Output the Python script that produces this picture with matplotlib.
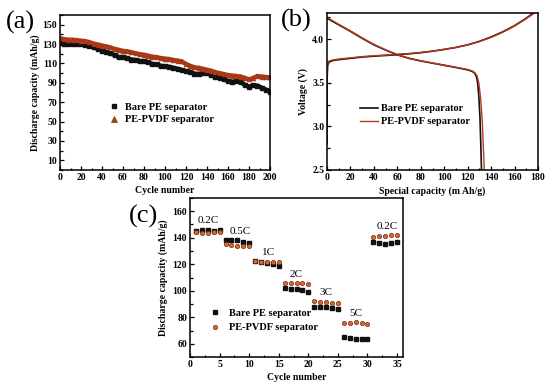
import matplotlib
matplotlib.use("Agg")
import matplotlib.pyplot as plt
from matplotlib.ticker import MultipleLocator
from matplotlib.lines import Line2D

plt.rcParams['font.family'] = ['Liberation Serif', 'DejaVu Serif']
plt.rcParams['font.weight'] = 'bold'

# ---------- (a) cycling data ----------
cyc_a = list(range(0, 201, 4))
bare_a = [131, 130.5, 130.5, 130, 130.5, 130, 129.5, 128, 126.5, 125, 123, 122, 120.5,
          118.5, 116.5, 116.5, 115.5, 114, 113.5, 112.5, 112, 111, 109.5, 109, 107.5,
          107, 106.5, 105.5, 104.5, 103, 102, 101.5, 99.5, 99, 100, 100, 98, 96, 95,
          93.5, 92, 91, 91.5, 90.5, 88, 86, 87.5, 87, 85, 83, 81]
pvdf_a = [136, 135, 134.5, 134.5, 134, 133.5, 133, 132, 130.5, 129.5, 128.5, 127.5, 126.5,
          125, 124, 123, 122.5, 121.5, 120.5, 119.5, 119, 118, 117, 116.5, 115.5,
          115, 114.5, 113.5, 113, 112, 109.5, 107.5, 106, 105.5, 104.5, 103.5, 102.5, 101,
          100, 99, 98, 97.5, 97, 96.5, 95, 93.5, 95, 97, 96.5, 96, 95.5]

# ---------- (b) voltage profiles ----------
chg_cap_bare = [0, 0, 0.5, 2, 5, 10, 20, 30, 40, 50, 60, 70, 80, 90, 100, 110, 120, 130,
                140, 150, 160, 170, 176]
chg_v_bare = [2.8, 3.5, 3.7, 3.74, 3.755, 3.765, 3.78, 3.795, 3.805, 3.813, 3.822, 3.832,
              3.845, 3.862, 3.882, 3.905, 3.935, 3.975, 4.025, 4.085, 4.155, 4.24, 4.3]
chg_cap_pvdf = [0, 0, 0.5, 2, 5, 10, 20, 30, 40, 50, 60, 70, 80, 90, 100, 110, 120, 130,
                140, 150, 160, 170, 177]
chg_v_pvdf = [2.8, 3.5, 3.71, 3.75, 3.762, 3.772, 3.786, 3.8, 3.81, 3.818, 3.826, 3.835,
              3.848, 3.864, 3.884, 3.906, 3.934, 3.972, 4.02, 4.08, 4.15, 4.235, 4.3]
dis_cap_bare = [0, 10, 20, 30, 40, 50, 60, 70, 80, 90, 100, 110, 120, 124, 126, 127.5,
                128.5, 129.5, 130.5, 131.3, 131.8]
dis_v_bare = [4.24, 4.165, 4.09, 4.01, 3.935, 3.875, 3.82, 3.78, 3.75, 3.725, 3.70, 3.675,
              3.648, 3.63, 3.61, 3.57, 3.5, 3.35, 3.1, 2.75, 2.5]
dis_cap_pvdf = [0, 10, 20, 30, 40, 50, 60, 70, 80, 90, 100, 110, 120, 124, 126, 128,
                129.5, 131, 132.5, 133.5, 134.2]
dis_v_pvdf = [4.25, 4.17, 4.095, 4.015, 3.94, 3.878, 3.822, 3.782, 3.752, 3.727, 3.703,
              3.678, 3.652, 3.635, 3.617, 3.58, 3.5, 3.33, 3.05, 2.72, 2.5]

# ---------- (c) rate capability ----------
cyc_c = list(range(1, 36))
bare_c = [145, 145.5, 145.5, 145, 145.5,
          138.5, 138.5, 138, 136.5, 136,
          122.5, 121.5, 121, 120, 119,
          102, 101.5, 101, 100.5, 99,
          88, 88, 87.5, 87, 86.5,
          65, 64, 63.5, 63.5, 63.5,
          136.5, 136, 135.5, 136, 136.5]
pvdf_c = [144, 143.5, 143.5, 144, 144,
          135, 134.5, 134, 134, 134,
          122.5, 122, 122, 121.5, 122,
          106, 106, 105.5, 105.5, 105,
          92, 91.5, 91.5, 91, 90.5,
          76, 76, 76.5, 76, 75,
          140.5, 141, 141.5, 142, 142]
rate_labels = ["0.2C", "0.5C", "1C", "2C", "3C", "5C", "0.2C"]
rate_lab_x = [3, 8.5, 13.2, 18, 23, 28, 33.3]
rate_lab_y = [149.5, 141.5, 125.5, 109, 95, 79.5, 145]

BLACK = '#111111'
RED = '#B8381A'
RED_C = '#D26A34'

fig = plt.figure(figsize=(5.5, 3.85), dpi=100)
W, H = 550, 385

def ax_px(l, r, t, b):
    return fig.add_axes([l / W, 1 - b / H, (r - l) / W, (b - t) / H])

def style(ax):
    for s in ax.spines.values():
        s.set_linewidth(1.1)
    ax.tick_params(which='both', direction='in', top=False, right=False,
                   labelsize=7, pad=2, width=0.9)
    ax.tick_params(which='major', length=3)
    ax.tick_params(which='minor', length=1.8)
    for lab in ax.get_xticklabels() + ax.get_yticklabels():
        lab.set_fontweight('bold')

# (a)
axa = ax_px(60, 270, 15, 170)
axa.plot(cyc_a, bare_a, ls='-', lw=3.2, marker='s', ms=3.2, color=BLACK,
         label='Bare PE separator')
axa.plot(cyc_a, pvdf_a, ls='-', lw=3.2, marker='^', ms=3.6, color=RED, mec='#7a3a10',
         mew=0.3, label='PE-PVDF separator')
axa.set_xlim(0, 200)
axa.set_ylim(0, 160)
axa.set_yticks(range(10, 151, 20))
axa.xaxis.set_major_locator(MultipleLocator(20))
axa.xaxis.set_minor_locator(MultipleLocator(10))
axa.yaxis.set_minor_locator(MultipleLocator(10))
axa.set_xlabel('Cycle number', fontsize=7, fontweight='bold', labelpad=3)
axa.set_ylabel('Discharge capacity (mAh/g)', fontsize=7, fontweight='bold', labelpad=2)
style(axa)
ha = [Line2D([], [], ls='none', marker='s', ms=3.5, color=BLACK),
      Line2D([], [], ls='none', marker='^', ms=4.2, color=RED, mec='#6b5a10', mew=0.6)]
axa.legend(ha, ['Bare PE separator', 'PE-PVDF separator'],
           loc='center left', bbox_to_anchor=(0.19, 0.365), frameon=False,
           handlelength=1.0, handletextpad=0.5, labelspacing=0.3,
           prop={'weight': 'bold', 'size': 7.5})

# (b)
axb = ax_px(327, 538, 13, 170)
axb.plot(chg_cap_bare, chg_v_bare, color=BLACK, lw=1.2, label='Bare PE separator')
axb.plot(chg_cap_pvdf, chg_v_pvdf, color=RED, lw=1.0, label='PE-PVDF separator')
axb.plot(dis_cap_bare, dis_v_bare, color=BLACK, lw=1.2)
axb.plot(dis_cap_pvdf, dis_v_pvdf, color=RED, lw=1.0)
axb.set_xlim(0, 180)
axb.set_ylim(2.5, 4.3)
axb.set_yticks([2.5, 3.0, 3.5, 4.0])
axb.yaxis.set_major_formatter(matplotlib.ticker.FormatStrFormatter('%.1f'))
axb.xaxis.set_major_locator(MultipleLocator(20))
axb.xaxis.set_minor_locator(MultipleLocator(10))
axb.yaxis.set_minor_locator(MultipleLocator(0.25))
axb.set_xlabel('Special capacity (m Ah/g)', fontsize=7, fontweight='bold', labelpad=3)
axb.set_ylabel('Voltage (V)', fontsize=7, fontweight='bold', labelpad=3)
style(axb)
axb.legend(loc='center left', bbox_to_anchor=(0.11, 0.35), frameon=False,
           handlelength=1.8, handletextpad=0.3, labelspacing=0.35,
           prop={'weight': 'bold', 'size': 7.5})

# (c)
axc = ax_px(190, 403, 198, 357)
axc.plot(cyc_c, bare_c, ls='none', marker='s', ms=2.9, color=BLACK, label='Bare PE separator')
axc.plot(cyc_c, pvdf_c, ls='none', marker='o', ms=3.1, color=RED_C, mec='#7a2a10',
         mew=0.5, label='PE-PVDF separator')
for t, x, y in zip(rate_labels, rate_lab_x, rate_lab_y):
    axc.text(x, y, t, ha='center', va='bottom', fontsize=8, fontweight='normal')
axc.set_xlim(0, 36)
axc.set_ylim(50, 170)
axc.set_yticks(range(60, 161, 20))
axc.xaxis.set_major_locator(MultipleLocator(5))
axc.xaxis.set_minor_locator(MultipleLocator(2.5))
axc.yaxis.set_minor_locator(MultipleLocator(10))
axc.set_xlabel('Cycle number', fontsize=7, fontweight='bold', labelpad=3)
axc.set_ylabel('Discharge capacity (mAh/g)', fontsize=7, fontweight='bold', labelpad=3)
style(axc)
axc.legend(loc='center left', bbox_to_anchor=(0.05, 0.23), frameon=False,
           handlelength=1.0, handletextpad=0.8, labelspacing=0.5,
           prop={'weight': 'bold', 'size': 7.5})

# panel labels
fig.text(20 / W, 1 - 22 / H, '(a)', fontsize=19, fontweight='normal', ha='center', va='center')
fig.text(296 / W, 1 - 20 / H, '(b)', fontsize=19, fontweight='normal', ha='center', va='center')
fig.text(143 / W, 1 - 216 / H, '(c)', fontsize=19, fontweight='normal', ha='center', va='center')

fig.savefig('out.png', dpi=100)
